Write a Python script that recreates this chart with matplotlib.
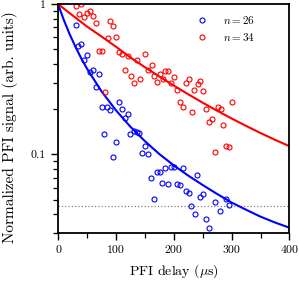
import numpy as np
import matplotlib
matplotlib.use("Agg")
import matplotlib.pyplot as plt
from matplotlib.ticker import NullFormatter, LogLocator, MultipleLocator

plt.rcParams['font.family'] = 'cmr10'
plt.rcParams['mathtext.fontset'] = 'cm'
plt.rcParams['axes.unicode_minus'] = False

# n = 26 data (blue)
t26 = [30.6, 34.6, 40.2, 50.2, 45.4, 60.6, 55.8, 70.5, 65.3, 75.2, 84.8, 89.9,
       105.6, 110.3, 115.8, 120.2, 80.3, 100.3, 95.6, 125.0, 131.1, 135.8, 140.3,
       150.1, 145.5, 155.0, 160.5, 170.4, 176.1, 185.6, 195.7, 200.9, 215.6, 180.1,
       190.5, 205.9, 211.1, 220.6, 225.8, 165.4, 241.0, 230.6, 236.2, 250.9, 245.9,
       256.1, 260.4, 271.3, 280.5, 290.9, 296.1]
s26 = [0.722, 0.528, 0.539, 0.460, 0.424, 0.366, 0.354, 0.342, 0.279, 0.205, 0.205, 0.198,
       0.223, 0.200, 0.1736, 0.185, 0.1365, 0.1207, 0.0959, 0.1365, 0.1435, 0.1414, 0.138,
       0.1136, 0.1015, 0.1005, 0.0692, 0.0757, 0.0766, 0.0807, 0.0819, 0.0827, 0.0808, 0.0649,
       0.0639, 0.0639, 0.0623, 0.0568, 0.0555, 0.0507, 0.0725, 0.0451, 0.0402, 0.0548, 0.0522,
       0.0371, 0.0323, 0.0479, 0.0418, 0.0507, 0.0462]

# n = 34 data (red)
t34 = [30.6, 40.2, 35.5, 45.4, 50.0, 55.4, 60.6, 65.8, 90.0, 95.6, 86.1, 100.8,
       70.1, 75.3, 105.1, 110.8, 120.7, 135.8, 150.6, 116.0, 125.9, 141.5, 131.1,
       155.8, 80.9, 161.7, 165.7, 170.9, 176.1, 180.8, 185.3, 190.5, 196.0, 200.9,
       206.1, 210.7, 215.9, 221.1, 226.3, 231.0, 235.5, 241.4, 246.2, 250.6, 256.3,
       261.0, 266.1, 276.0, 281.2, 285.7, 301.1, 271.3, 290.9, 296.1]
s34 = [0.974, 1.0, 0.854, 0.822, 0.867, 0.902, 0.828, 0.744, 0.774, 0.717, 0.591, 0.600,
       0.487, 0.487, 0.478, 0.465, 0.454, 0.424, 0.467, 0.364, 0.334, 0.315, 0.296,
       0.364, 0.259, 0.391, 0.334, 0.301, 0.342, 0.317, 0.357, 0.357, 0.300, 0.325,
       0.267, 0.2245, 0.206, 0.298, 0.316, 0.190, 0.268, 0.294, 0.309, 0.264, 0.199,
       0.164, 0.171, 0.2055, 0.199, 0.157, 0.223, 0.104, 0.1144, 0.1115]

# fit curves
fit_t = [0, 10, 20, 30, 40, 50, 75, 100, 125, 150, 175, 200, 225, 250, 275, 300, 325, 350, 375, 400]
fit26 = [1.0, 0.783, 0.631, 0.520, 0.436, 0.372, 0.263, 0.1965, 0.1528, 0.1225, 0.1005,
         0.0845, 0.0722, 0.0625, 0.0545, 0.0478, 0.0428, 0.0385, 0.0352, 0.0325]
fit34 = [1.0, 0.932, 0.869, 0.812, 0.758, 0.708, 0.608, 0.520, 0.441, 0.380, 0.3295,
         0.2867, 0.2508, 0.2206, 0.1949, 0.1731, 0.1545, 0.1385, 0.1249, 0.1132]

threshold = 0.045

fig = plt.figure(figsize=(2.99, 2.82), dpi=100)
ax = fig.add_axes([0.194, 0.174, 0.774, 0.812])

ax.axhline(threshold, color='gray', ls=':', lw=0.9)
ax.plot(fit_t, fit26, color='#0000ff', lw=1.5)
ax.plot(fit_t, fit34, color='#ff0000', lw=1.5)
ax.plot(t26, s26, 'o', mfc='none', mec='#0000ff', ms=3.6, mew=0.8, label='$n = 26$')
ax.plot(t34, s34, 'o', mfc='none', mec='#ff0000', ms=3.6, mew=0.8, label='$n = 34$')

ax.set_yscale('log')
ax.set_xlim(0, 400)
ax.set_ylim(0.03, 1)
ax.set_yticks([0.1, 1])
ax.set_yticklabels(['0.1', '1'])
ax.yaxis.set_minor_locator(LogLocator(base=10, subs=np.arange(2, 10)))
ax.yaxis.set_minor_formatter(NullFormatter())
ax.set_xticks([0, 100, 200, 300, 400])
ax.xaxis.set_minor_locator(MultipleLocator(50))

ax.tick_params(which='major', direction='out', length=5, width=1, labelsize=8.5, pad=4)
ax.tick_params(which='minor', direction='out', length=3.5, width=0.9)
ax.tick_params(top=False, right=False)
for sp in ax.spines.values():
    sp.set_linewidth(1.3)

ax.set_xlabel(r'PFI delay ($\mu$s)', fontsize=10, labelpad=5)
ax.set_ylabel('Normalized PFI signal (arb. units)', fontsize=11)
ax.yaxis.set_label_coords(-0.175, 0.46)

ax.legend(loc='upper left', bbox_to_anchor=(0.587, 0.958), frameon=False, fontsize=8,
          handletextpad=1.1, borderpad=0, borderaxespad=0, handlelength=1.5,
          labelspacing=0.45)

fig.savefig('out.png', dpi=100)
